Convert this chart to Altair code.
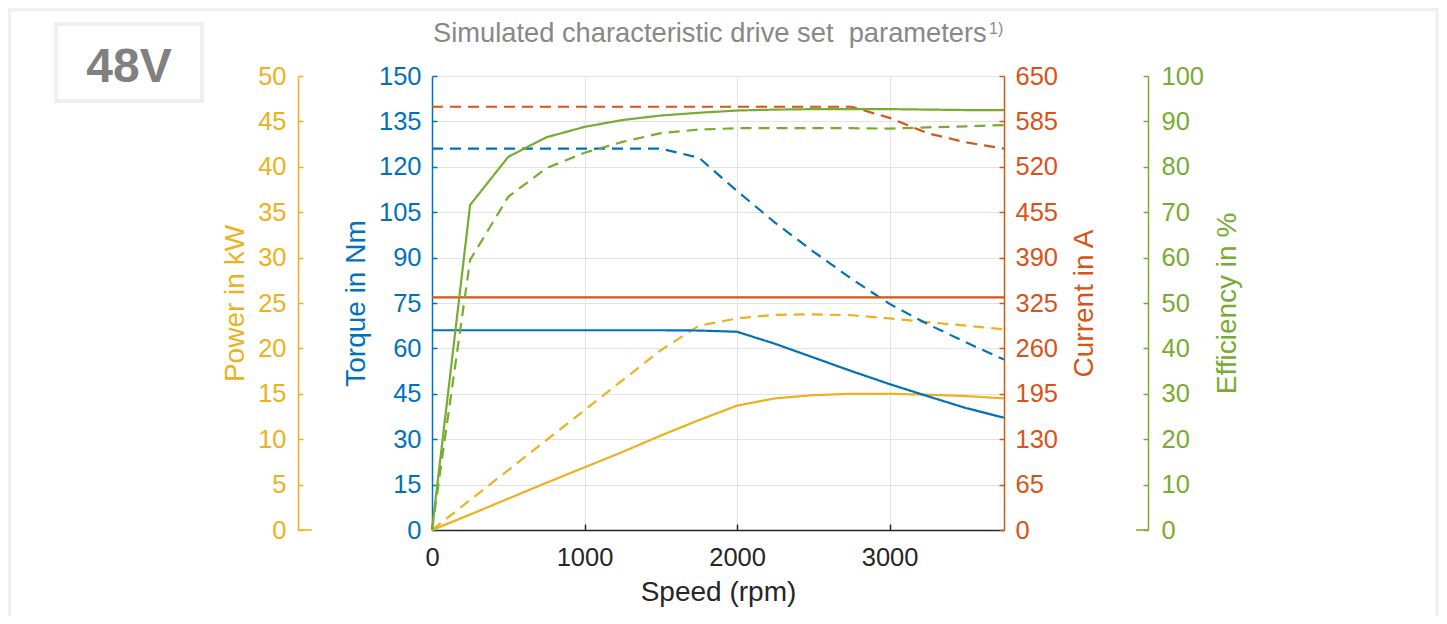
import altair as alt
import pandas as pd

# ---------------- data ----------------
speed = [0, 250, 500, 750, 1000, 1250, 1500, 1750, 2000, 2250, 2500, 2750, 3000, 3250, 3500, 3750]

torque_cont = [66, 66, 66, 66, 66, 66, 66, 65.9, 65.5, 61.5, 57.0, 52.5, 48.2, 44.2, 40.3, 37.1]
torque_peak = [126, 126, 126, 126, 126, 126, 126, 123, 112, 101.5, 92, 83, 74.7, 68, 62, 56.3]

power_cont = [0, 1.7, 3.45, 5.2, 6.9, 8.6, 10.4, 12.1, 13.7, 14.5, 14.85, 15.0, 15.0, 14.9, 14.75, 14.5]
power_peak = [0, 3.3, 6.6, 9.9, 13.2, 16.5, 19.8, 22.5, 23.3, 23.7, 23.75, 23.65, 23.3, 22.9, 22.5, 22.1]

current_cont = [333, 333, 333, 333, 333, 333, 333, 333, 333, 333, 333, 333, 333, 333, 333, 333]
current_peak = [606, 606, 606, 606, 606, 606, 606, 606, 606, 606, 606, 606, 590, 568, 555, 546]

eff_cont = [0, 71.6, 82.2, 86.5, 88.8, 90.3, 91.3, 91.9, 92.4, 92.6, 92.7, 92.7, 92.7, 92.6, 92.5, 92.5]
eff_peak = [0, 59.5, 73.4, 79.7, 83.1, 85.5, 87.4, 88.2, 88.5, 88.5, 88.5, 88.5, 88.4, 88.7, 88.9, 89.2]

speed_ticks = [0, 1000, 2000, 3000]
power_ticks = [0, 5, 10, 15, 20, 25, 30, 35, 40, 45, 50]
torque_ticks = [0, 15, 30, 45, 60, 75, 90, 105, 120, 135, 150]
current_ticks = [0, 65, 130, 195, 260, 325, 390, 455, 520, 585, 650]
eff_ticks = [0, 10, 20, 30, 40, 50, 60, 70, 80, 90, 100]

title_text = "Simulated characteristic drive set\u00a0 parameters"
sup_text = "1)"
badge_text = "48V"

# ---------------- styling ----------------
FONT = "Liberation Sans"
LABEL_SIZE = 25.5
TITLE_SIZE = 28
BLUE = "#0072BD"
ORANGE = "#D95319"
YELLOW = "#EDB120"
GREEN = "#77AC30"
DARK = "#262626"
GRID = "#e3e3e3"
LW = 2.2

W, H = 572, 454


def frame(cont, peak):
    n = len(speed)
    return pd.DataFrame({
        "speed": speed + speed,
        "value": cont + peak,
        "kind": ["cont"] * n + ["peak"] * n,
    })


xscale = alt.Scale(domain=[0, 3750], nice=False, zero=False)
x_none = alt.X("speed:Q", scale=xscale, axis=None)
dash = alt.StrokeDash("kind:N", scale=alt.Scale(domain=["cont", "peak"], range=[[1, 0], [11, 7]]), legend=None)


def quantity(df, color, domain, ticks, orient, offset, label_pad, title, title_x,
             tick_orient, tick_offset, grid=False):
    yscale = alt.Scale(domain=domain, nice=False, zero=False)
    lines = alt.Chart(df).mark_line(color=color, strokeWidth=LW).encode(
        x=x_none,
        y=alt.Y("value:Q", scale=yscale, axis=alt.Axis(
            orient=orient, offset=offset, values=ticks, format="d",
            ticks=False, tickSize=0, labelPadding=label_pad,
            labelFont=FONT, labelFontSize=LABEL_SIZE, labelColor=color,
            labelFlush=False, labelOverlap=False,
            domain=True, domainColor=color, domainWidth=1.5,
            grid=grid, gridColor=GRID, gridWidth=1,
            title=title, titleFont=FONT, titleFontSize=TITLE_SIZE,
            titleFontWeight="normal", titleColor=color, titleAngle=270,
            titleAlign="center", titleBaseline="alphabetic",
            titleX=title_x, titleY=H / 2,
        )),
        strokeDash=dash,
        detail="kind:N",
    )
    tick_layer = alt.Chart(df).mark_line(strokeOpacity=0).encode(
        x=x_none,
        y=alt.Y("value:Q", scale=yscale, axis=alt.Axis(
            orient=tick_orient, offset=tick_offset, values=ticks,
            labels=False, domain=False, grid=False, ticks=True,
            tickSize=5, tickColor=color, tickWidth=1.5, title=None,
        )),
        detail="kind:N",
    )
    return alt.layer(lines, tick_layer)


power = quantity(frame(power_cont, power_peak), YELLOW, [0, 50], power_ticks,
                 "left", 134, 12, "Power in kW", -55, "right", -(W + 134))
torque = quantity(frame(torque_cont, torque_peak), BLUE, [0, 150], torque_ticks,
                  "left", 0, 11, "Torque in Nm", -68, "right", -W, grid=True)
current = quantity(frame(current_cont, current_peak), ORANGE, [0, 650], current_ticks,
                   "right", 0, 11, "Current in A", 88, "left", -W)
eff = quantity(frame(eff_cont, eff_peak), GREEN, [0, 100], eff_ticks,
               "right", 144, 13, "Efficiency in %", 87, "left", -(W + 144))

xdf = pd.DataFrame({"speed": speed_ticks})
x_bottom = alt.Chart(xdf).mark_point(opacity=0).encode(
    x=alt.X("speed:Q", scale=xscale, axis=alt.Axis(
        orient="bottom", values=speed_ticks, format="d", ticks=False, tickSize=0,
        labelPadding=15, labelFont=FONT, labelFontSize=LABEL_SIZE, labelColor=DARK,
        labelFlush=False, labelOverlap=False,
        domain=True, domainColor=DARK, domainWidth=1.5,
        grid=True, gridColor=GRID, gridWidth=1,
        title="Speed (rpm)", titleFont=FONT, titleFontSize=TITLE_SIZE,
        titleFontWeight="normal", titleColor=DARK, titleBaseline="alphabetic",
        titleAlign="center", titleX=W / 2, titleY=70,
    ))
)
x_top = alt.Chart(xdf).mark_point(opacity=0).encode(
    x=alt.X("speed:Q", scale=xscale, axis=alt.Axis(
        orient="top", offset=-H, values=speed_ticks, labels=False, domain=False,
        grid=False, ticks=True, tickSize=6, tickColor=DARK, tickWidth=1.5, title=None,
    ))
)
xaxes = alt.layer(x_bottom, x_top)

one = pd.DataFrame({"k": [0]})

outer_frame = alt.Chart(one).mark_rect(fillOpacity=0, stroke="#f0f0f0", strokeWidth=3.5).encode(
    x=alt.value(-422.5), x2=alt.value(1005), y=alt.value(-66.5), y2=alt.value(600)
)
badge_box = alt.Chart(one).mark_rect(fillOpacity=0, stroke="#efefef", strokeWidth=4).encode(
    x=alt.value(-376), x2=alt.value(-230), y=alt.value(-52), y2=alt.value(25)
)
badge = alt.Chart(one).mark_text(
    text=badge_text, font=FONT, fontSize=48, fontWeight="bold", color="#808080",
    align="center", baseline="alphabetic"
).encode(x=alt.value(-303), y=alt.value(6))
title = alt.Chart(one).mark_text(
    text=title_text, font=FONT, fontSize=27.3, color="#888888",
    align="left", baseline="alphabetic"
).encode(x=alt.value(1), y=alt.value(-33.7))
sup = alt.Chart(one).mark_text(
    text=sup_text, font=FONT, fontSize=16, color="#888888",
    align="left", baseline="alphabetic"
).encode(x=alt.value(557), y=alt.value(-42))
power_foot = alt.Chart(one).mark_rule(color=YELLOW, strokeWidth=1.5).encode(
    x=alt.value(-134), x2=alt.value(-120), y=alt.value(H)
)
eff_foot = alt.Chart(one).mark_rule(color=GREEN, strokeWidth=1.5).encode(
    x=alt.value(704), x2=alt.value(716), y=alt.value(H)
)

chart = alt.layer(
    xaxes, power, torque, current, eff,
    outer_frame, badge_box, badge, title, sup, power_foot, eff_foot,
).resolve_scale(
    y="independent"
).properties(
    width=W, height=H,
    padding={"left": 424, "top": 68, "right": 435, "bottom": 86},
    autosize=alt.AutoSizeParams(type="none"),
    background="white",
).configure_view(strokeWidth=0)

chart.save("out.html", embed_options={"renderer": "svg", "actions": False})
